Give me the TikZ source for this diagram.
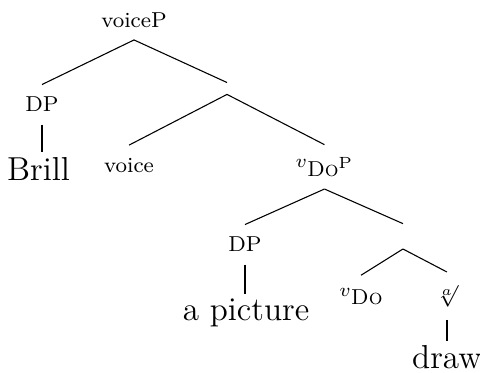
\documentclass[tikz,border=0pt]{standalone}
\usepackage{amsmath}
\usepackage{tikz}

\newcommand{\smallv}{\raisebox{3.3pt}{\scriptsize$v$}}

\tikzset{
  lbl/.style={inner sep=4.5pt, font=\footnotesize, anchor=base},
  leaf/.style={inner sep=1.5pt, font=\fontsize{12.3}{14}\selectfont, anchor=base},
  bar/.style={inner sep=0pt, minimum width=0pt},
}

\begin{document}
\begin{tikzpicture}
    \useasboundingbox (0,0) rectangle (6.25,-4.844);
    % top layer
    \node[lbl] (voicep) at (1.745,-0.352) {voiceP};
    \node[bar, minimum height=4pt] (bar1) at (2.956,-1.152) {};
    \node[lbl] (dpa) at (0.547,-1.458) {DP};
    \node[leaf] (brill) at (0.501,-2.344) {Brill};
    \node[lbl] (voice) at (1.680,-2.240) {voice};
    \node[lbl] (vdop) at (4.225,-2.292) {\smallv\textsc{Do}$^{\text{P}}$};
    % lower layer
    \node[bar, minimum height=9pt] (bar2) at (5.247,-3.077) {};
    \node[lbl] (dpb) at (3.190,-3.281) {DP};
    \node[leaf] (pict) at (3.203,-4.167) {a picture};
    \node[lbl] (vdo) at (4.701,-3.971) {\smallv\textsc{Do}};
    \node[lbl, anchor=center] (root) at (5.820,-3.854) {$\sqrt[a]{}$};
    \node[leaf] (drawleaf) at (5.820,-4.80) {draw};

    \draw (voicep.south) -- (dpa.north);
    \draw (voicep.south) -- (bar1.north);
    \draw (dpa.south) -- (dpa.south |- brill.north);
    \draw (bar1.south) -- (voice.north);
    \draw (bar1.south) -- (vdop.north);
    \draw (vdop.south) -- (dpb.north);
    \draw (vdop.south) -- (bar2.north);
    \draw (dpb.south) -- (dpb.south |- pict.north);
    \draw (bar2.south) -- (vdo.north);
    \draw (bar2.south) -- (root.north);
    \draw (root.south) -- (root.south |- drawleaf.north);
\end{tikzpicture}
\end{document}
